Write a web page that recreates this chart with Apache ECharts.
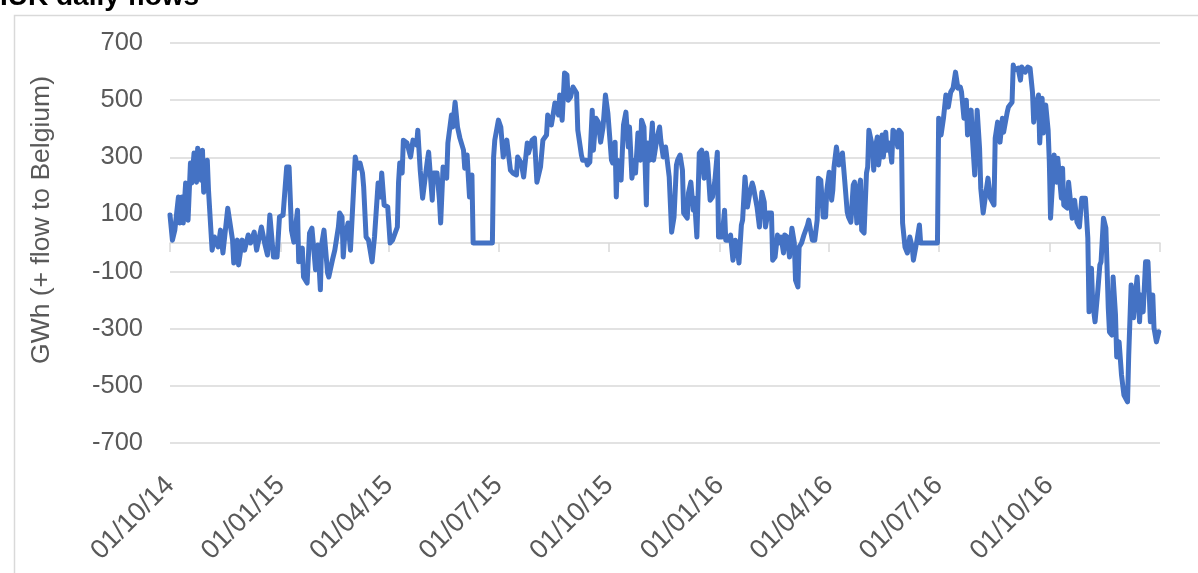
<!DOCTYPE html>
<html>
<head>
<meta charset="utf-8">
<script src="https://cdn.jsdelivr.net/npm/echarts@6/dist/echarts.min.js"></script>
<style>
html,body{margin:0;padding:0;background:#fff;}
#chart{width:1198px;height:573px;}
</style>
</head>
<body>
<div id="chart"></div>
<script>
// Day offsets counted from 01/10/2014
const dayOffset = [
  0,2,4,7,8,10,11,13,15,17,
  18,20,22,23,26,27,28,31,32,35,
  37,40,42,44,48,52,53,56,57,60,
  62,65,67,70,72,76,79,81,83,86,
  89,91,94,97,99,101,103,106,107,110,
  111,114,116,118,121,123,125,126,128,131,
  132,135,137,140,141,143,144,145,148,150,
  151,154,156,158,160,161,163,165,168,170,
  173,175,176,178,181,183,185,189,190,191,
  193,194,197,200,202,205,206,208,210,214,
  215,218,219,222,224,225,227,230,231,234,
  235,237,239,241,244,245,247,248,249,251,
  252,268,269,270,273,275,277,280,283,285,
  288,289,292,294,297,298,301,303,305,308,
  310,313,314,317,318,320,323,324,326,328,
  330,331,333,335,338,339,342,343,346,347,
  349,351,352,354,356,358,360,362,364,367,
  368,370,371,372,375,377,379,381,382,384,
  386,387,389,391,392,394,396,397,399,401,
  402,405,407,408,410,412,415,417,419,421,
  422,424,426,427,430,431,433,435,436,438,
  440,442,444,446,447,449,451,453,455,456,
  459,461,462,464,466,468,470,471,473,475,
  476,478,480,482,484,485,488,490,492,494,
  495,497,500,501,503,505,506,508,510,511,
  513,515,517,519,520,522,523,525,527,530,
  531,534,536,538,539,541,543,545,546,548,
  550,551,552,554,556,558,559,561,563,564,
  566,568,569,571,572,574,575,577,579,580,
  581,584,585,586,588,589,590,592,593,595,
  596,598,600,601,603,605,606,608,609,611,
  613,615,617,618,621,623,624,638,639,641,
  643,645,647,649,651,653,655,657,658,660,
  662,663,666,667,669,671,673,674,676,678,
  680,682,685,686,688,690,692,693,696,697,
  700,701,702,705,707,708,711,713,715,717,
  718,720,722,723,725,726,728,730,731,732,
  733,735,737,738,741,742,743,746,747,750,
  752,754,756,758,761,763,764,766,767,769,
  771,773,774,776,778,780,781,783,784,786,
  787,789,791,793,796,797,799,801,802,804,
  806,807,809,811,813,815,817,818,820,822
];
// Daily flow, GWh (+ flow to Belgium)
const flowGWh = [
  98,10,45,161,70,161,70,210,80,280,
  210,315,213,332,220,325,178,290,185,-25,
  21,-14,45,-35,122,10,-70,10,-77,10,
  -25,28,0,38,-25,56,-7,-42,98,-49,
  -49,91,98,266,266,45,3,115,-66,-18,
  -119,-140,35,52,-94,-7,-164,-7,45,-105,
  -119,-60,-25,56,105,91,-49,10,70,-25,
  56,301,262,280,245,196,21,10,-66,21,
  210,161,245,133,126,0,10,56,213,280,
  245,360,350,301,360,343,395,255,157,290,
  318,150,245,245,150,70,266,227,350,448,
  406,493,406,367,325,262,308,231,161,238,
  0,0,300,360,430,406,301,360,255,245,
  238,301,280,231,350,315,360,367,213,266,
  360,378,448,413,437,490,448,518,430,595,
  588,500,511,546,525,395,308,290,290,273,
  283,465,325,437,423,353,406,518,455,290,
  280,353,161,290,220,413,458,336,406,227,
  290,245,385,290,430,406,133,350,290,420,
  290,371,406,360,301,336,231,38,91,273,
  290,308,255,105,87,175,213,115,157,21,
  315,325,227,315,280,150,161,220,318,21,
  21,115,10,10,28,-60,10,0,-70,63,
  80,231,126,175,210,196,126,56,178,143,
  56,105,105,-60,-49,28,0,21,-35,28,
  21,-49,52,0,-130,-154,-14,0,28,63,
  80,10,10,80,227,220,91,91,185,248,
  150,185,266,336,273,301,315,213,108,91,
  73,203,213,70,178,220,45,35,245,266,
  395,336,255,325,371,273,280,378,301,388,
  325,350,283,395,385,336,395,385,70,-14,
  -35,21,-14,-60,10,63,0,0,437,378,
  437,518,476,528,542,598,542,546,528,437,
  500,378,465,371,238,465,332,192,105,168,
  227,157,133,367,423,353,437,388,458,476,
  493,623,605,612,570,616,598,616,612,528,
  423,483,518,350,507,385,483,395,283,87,
  87,308,213,297,157,262,133,122,213,87,
  150,73,56,157,157,17,-241,-88,-206,-276,
  -182,-77,-66,87,52,-227,-311,-322,-119,-252,
  -399,-346,-462,-532,-556,-392,-147,-262,-206,-119,
  -276,-182,-241,-66,-66,-276,-182,-297,-346,-311
];
// Quarter starts (day offsets) and their labels
const tickDays = [0, 92, 182, 273, 365, 457, 548, 639, 731, 823];
const tickLabels = ['01/10/14','01/01/15','01/04/15','01/07/15','01/10/15','01/01/16','01/04/16','01/07/16','01/10/16'];
const labelDays = tickDays.slice(0, tickLabels.length);

const chart = echarts.init(document.getElementById('chart'), null, {renderer: 'canvas'});
const seriesData = dayOffset.map((d, i) => [d, flowGWh[i]]);
const gridColor = '#d9d9d9';
const textColor = '#595959';

chart.setOption({
  animation: false,
  backgroundColor: '#ffffff',
  grid: {left: 170, right: 38, top: 43, bottom: 130, containLabel: false},
  graphic: [
    {type: 'rect', left: 12, top: 13, silent: true,
     shape: {x: 0, y: 0, width: 1300, height: 700},
     style: {fill: 'none', stroke: gridColor, lineWidth: 1.5}},
    {type: 'text', x: 0, y: 11, silent: true,
     style: {text: 'IUK daily flows', font: 'bold 28px "Liberation Sans", Arial, sans-serif',
             fill: '#000', textAlign: 'left', textVerticalAlign: 'bottom'}},
    {type: 'text', x: 42, y: 220, rotation: Math.PI / 2, silent: true,
     style: {text: 'GWh (+ flow to Belgium)', font: '26.5px "Liberation Sans", Arial, sans-serif',
             fill: textColor, textAlign: 'center', textVerticalAlign: 'middle'}}
  ],
  xAxis: [
    {
      type: 'value', min: 0, max: 823, position: 'bottom',
      axisLine: {show: true, onZero: true, lineStyle: {color: gridColor, width: 1.5}},
      axisTick: {show: true, customValues: tickDays, length: 9, inside: false, lineStyle: {color: gridColor, width: 1.5}},
      axisLabel: {show: false},
      splitLine: {show: false}
    },
    {
      type: 'value', min: 0, max: 823, position: 'bottom',
      axisLine: {show: false, onZero: false},
      axisTick: {show: false},
      splitLine: {show: false},
      axisLabel: {
        show: true, customValues: labelDays, rotate: 45, margin: 38,
        color: textColor, fontSize: 27, fontFamily: '"Liberation Sans", Arial, sans-serif',
        formatter: function (v) {
          const i = labelDays.indexOf(Math.round(v));
          return i >= 0 ? tickLabels[i] : '';
        }
      }
    }
  ],
  yAxis: {
    type: 'value', min: -700, max: 700, interval: 200,
    axisLine: {show: false}, axisTick: {show: false},
    axisLabel: {color: textColor, fontSize: 25.5, margin: 27, fontFamily: '"Liberation Sans", Arial, sans-serif'},
    splitLine: {show: true, lineStyle: {color: gridColor, width: 1.5}}
  },
  series: [{
    type: 'line', xAxisIndex: 0, yAxisIndex: 0,
    data: seriesData, showSymbol: false, symbol: 'none',
    lineStyle: {color: '#4472C4', width: 5, join: 'round', cap: 'round'},
    clip: false
  }]
});
</script>
</body>
</html>
